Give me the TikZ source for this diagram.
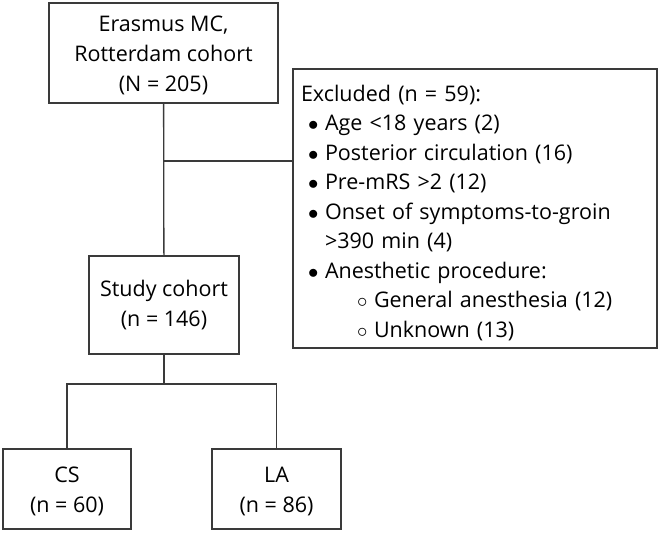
\documentclass[tikz,border=0pt]{standalone}
\usepackage{fontspec}
\setmainfont{Open Sans}
\usepackage{xcolor}
\usepackage{tikz}
\usetikzlibrary{positioning,calc}
\definecolor{frame}{HTML}{3A3A3A}
\newcommand\bitem{\makebox[24pt][l]{\hspace{7pt}$\bullet$}}
\newcommand\citem{\makebox[73pt][l]{\hspace{56pt}$\circ$}}
\begin{document}
\begin{tikzpicture}[x=1pt,y=-1pt,
box/.style={draw=frame,line width=1.3pt,align=center,inner sep=0pt,font=\fontsize{21.5}{30}\selectfont},
exbox/.style={draw=frame,line width=1.3pt,align=left,inner sep=0pt,text width=348pt,font=\fontsize{21.5}{29.5}\selectfont},
conn/.style={draw=frame,line width=1.3pt}
]
\useasboundingbox (0,0) rectangle (660,533);
\node[box,minimum width=229pt,minimum height=100pt] (cohort) at (163.5,53) {\rule{0pt}{20pt}Erasmus MC,\\Rotterdam cohort\\(N = 205)};
\node[exbox,minimum width=364pt,minimum height=279pt] (excl) at (475,208.5) {\rule{0pt}{25pt}Excluded (n = 59):\\
\bitem Age <18 years (2)\\
\bitem Posterior circulation (16)\\
\bitem Pre-mRS >2 (12)\\
\bitem Onset of symptoms-to-groin\\
\hspace*{24pt}>390 min (4)\\
\bitem Anesthetic procedure:\\
\citem General anesthesia (12)\\
\citem Unknown (13)};
\node[box,minimum width=150pt,minimum height=98pt] (study) at (164,305) {Study cohort\\(n = 146)};
\node[box,minimum width=128pt,minimum height=80pt] (cs) at (67,489) {\rule{0pt}{20pt}CS\\(n = 60)};
\node[box,minimum width=129pt,minimum height=80pt] (la) at (276.5,489) {\rule{0pt}{20pt}LA\\(n = 86)};
\coordinate (j1) at (164,161);
\coordinate (j2) at (164,384);
\draw[conn] (cohort) -- (study);
\draw[conn] (j1) -- (j1 -| excl.west);
\draw[conn] (study) -- (j2);
\draw[conn] (j2) -| (cs);
\draw[conn] (j2) -| (la);
\end{tikzpicture}
\end{document}
